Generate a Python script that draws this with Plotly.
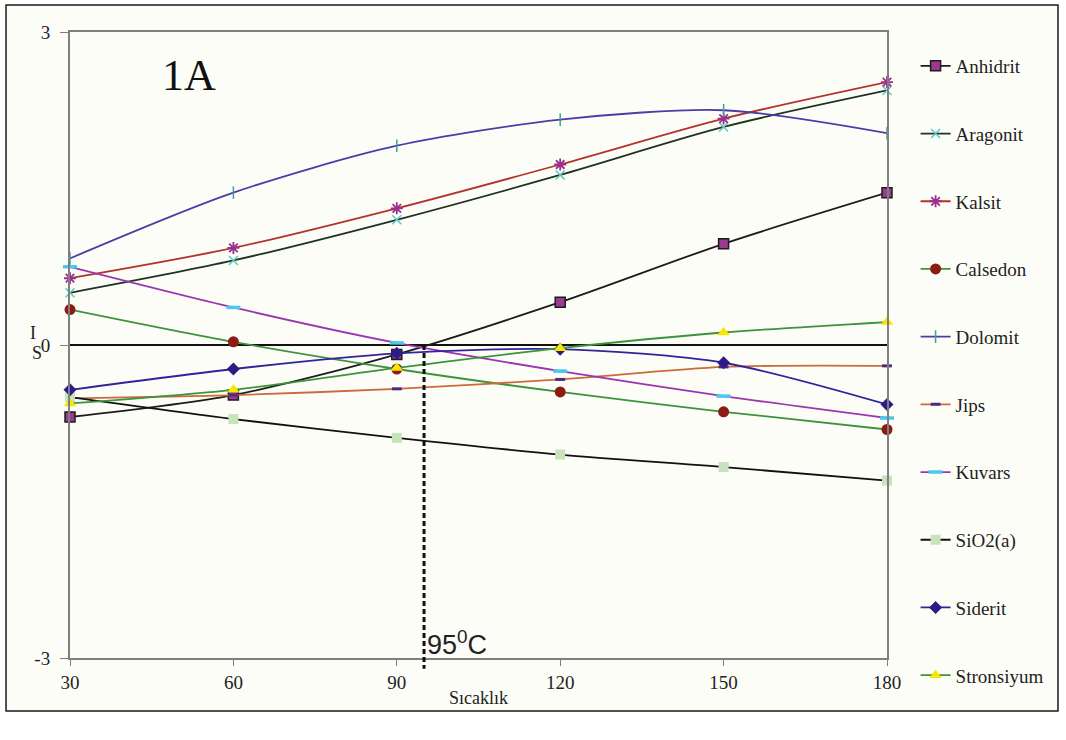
import plotly.graph_objects as go

# Temperature steps (°C)
temps = [30, 60, 90, 120, 150, 180]

# Saturation index of each mineral at each temperature
anhidrit = [-0.69, -0.48, -0.09, 0.41, 0.97, 1.46]
aragonit = [0.50, 0.81, 1.20, 1.63, 2.09, 2.44]
kalsit = [0.64, 0.93, 1.31, 1.73, 2.17, 2.52]
calsedon = [0.34, 0.03, -0.23, -0.45, -0.64, -0.81]
dolomit = [0.83, 1.46, 1.91, 2.16, 2.25, 2.03]
jips = [-0.51, -0.48, -0.42, -0.33, -0.21, -0.20]
kuvars = [0.75, 0.36, 0.02, -0.25, -0.49, -0.70]
sio2a = [-0.50, -0.71, -0.89, -1.05, -1.17, -1.30]
siderit = [-0.43, -0.23, -0.08, -0.04, -0.17, -0.57]
stronsiyum = [-0.56, -0.43, -0.22, -0.03, 0.12, 0.22]

x_ticks = [30, 60, 90, 120, 150, 180]
y_ticks = [-3, 0, 3]
marker_temp = 95

series = [
    ("Anhidrit", anhidrit, "#1c1c1c", dict(symbol="square", size=10, color="#9b3a8e", line=dict(color="#1c1c1c", width=1.5))),
    ("Aragonit", aragonit, "#1f3320", dict(symbol="x-thin-open", size=9, color="#5cc8c0", line=dict(color="#5cc8c0", width=1.5))),
    ("Kalsit", kalsit, "#b2332c", dict(symbol="asterisk-open", size=10, color="#9b2f8e", line=dict(color="#9b2f8e", width=1.8))),
    ("Calsedon", calsedon, "#3c933c", dict(symbol="circle", size=11, color="#8b1c14", line=dict(color="#8b1c14", width=0))),
    ("Dolomit", dolomit, "#4a3ea6", dict(symbol="line-ns-open", size=9, color="#3aa0a0", line=dict(color="#3aa0a0", width=1.5))),
    ("Jips", jips, "#cc6a3a", dict(symbol="line-ew-open", size=7, color="#4b2a80", line=dict(color="#4b2a80", width=3))),
    ("Kuvars", kuvars, "#9b35b0", dict(symbol="line-ew-open", size=10, color="#4cc8f0", line=dict(color="#4cc8f0", width=3.5))),
    ("SiO2(a)", sio2a, "#111111", dict(symbol="square", size=10, color="#c8e2bc", line=dict(color="#c8e2bc", width=0))),
    ("Siderit", siderit, "#33229a", dict(symbol="diamond", size=10, color="#2e1c86", line=dict(color="#2e1c86", width=0))),
    ("Stronsiyum", stronsiyum, "#3c933c", dict(symbol="triangle-up", size=11, color="#f6e600", line=dict(color="#f6e600", width=0))),
]

fig = go.Figure()
for i, (name, vals, lc, mk) in enumerate(series):
    fig.add_trace(go.Scatter(
        x=temps, y=vals, name=name, mode="lines+markers",
        line=dict(color=lc, width=1.8, shape="spline", smoothing=0.8),
        marker=mk, legendgroup=f"g{i}", cliponaxis=False,
    ))

# Outer frame of the figure
fig.add_shape(type="rect", xref="paper", yref="paper",
              x0=-0.0783, x1=1.2093, y0=-0.0847, y1=1.0431,
              line=dict(color="#1a1a1a", width=1.5), fillcolor="#fdfdf8", layer="below")

# Temperature marker line
fig.add_shape(type="line", xref="x", yref="paper",
              x0=marker_temp, x1=marker_temp, y0=0.5, y1=-0.017,
              line=dict(color="#111111", width=3, dash="5px,3px"))

fig.add_annotation(x=marker_temp, y=-3, xref="x", yref="y", xanchor="left", yanchor="bottom",
                   text="95<sup>0</sup>C", showarrow=False, xshift=1, yshift=-4,
                   font=dict(family="Liberation Sans", size=27, color="#222222"))
fig.add_annotation(x=0.146, y=0.93, xref="paper", yref="paper", text="1A", showarrow=False,
                   xanchor="center", yanchor="middle",
                   font=dict(family="Liberation Serif", size=44, color="#111111"))
# Stacked y-axis label letters
fig.add_annotation(x=-0.045, y=0.519, xref="paper", yref="paper", text="I", showarrow=False,
                   xanchor="center", yanchor="middle",
                   font=dict(family="Liberation Serif", size=18, color="#222222"))
fig.add_annotation(x=-0.041, y=0.487, xref="paper", yref="paper", text="S", showarrow=False,
                   xanchor="center", yanchor="middle",
                   font=dict(family="Liberation Serif", size=18, color="#222222"))

fig.update_layout(
    width=1066, height=740,
    margin=dict(l=70, r=179, t=32, b=82),
    paper_bgcolor="#ffffff", plot_bgcolor="#fdfdf8",
    font=dict(family="Liberation Serif", size=19, color="#222222"),
    showlegend=True,
    legend=dict(x=1.035, y=0.976, xanchor="left", yanchor="top",
                traceorder="grouped", tracegroupgap=40, maxheight=720,
                bgcolor="rgba(0,0,0,0)", itemwidth=30,
                font=dict(family="Liberation Serif", size=19, color="#222222")),
    xaxis=dict(range=[30, 180], tickvals=x_ticks, showgrid=False, zeroline=False,
               showline=True, linecolor="#7f7f7f", linewidth=2, mirror=True,
               ticks="outside", ticklen=6, tickcolor="#7f7f7f",
               tickfont=dict(size=19),
               title=dict(text="Sıcaklık", font=dict(size=18), standoff=0)),
    yaxis=dict(range=[-3, 3], tickvals=y_ticks, ticktext=["-3", "0", "3"], showgrid=False,
               zeroline=True, zerolinecolor="#111111", zerolinewidth=2,
               showline=True, linecolor="#7f7f7f", linewidth=2, mirror=True,
               ticks="outside", ticklen=8, tickcolor="#7f7f7f", ticklabelstandoff=6,
               tickfont=dict(size=19)),
)

fig.write_html("out.html")
